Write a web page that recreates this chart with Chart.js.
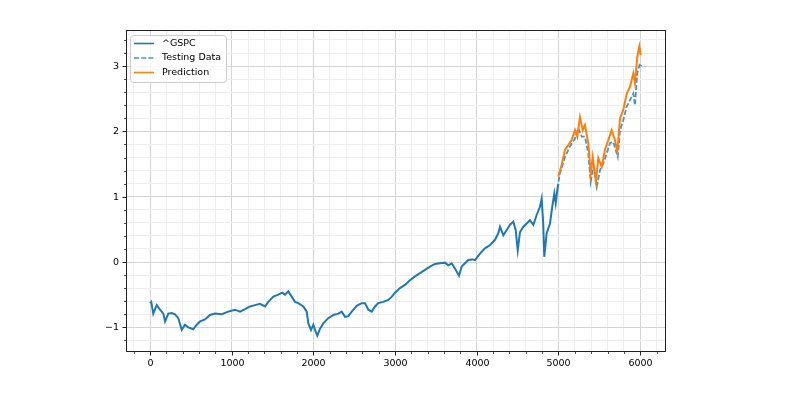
<!DOCTYPE html>
<html>
<head>
<meta charset="utf-8">
<script src="https://cdn.jsdelivr.net/npm/chart.js@4"></script>
<style>
  body { margin: 0; background: #fff; }
  canvas { display: block; }
</style>
</head>
<body>
<canvas id="chart" width="800" height="400"></canvas>
<script>
// values
let gspcX = [0, 15, 40, 82, 122, 163, 184, 224, 266, 306, 346, 388, 428, 469, 530, 572, 612, 673, 734, 796, 878, 958,
    1040, 1102, 1163, 1224, 1285, 1346, 1408, 1448, 1509, 1570, 1619, 1652, 1693, 1734, 1775, 1815, 1876, 1918, 1938, 1971,
    1999, 2020, 2048, 2081, 2121, 2182, 2244, 2305, 2346, 2387, 2427, 2469, 2530, 2591, 2632, 2672, 2714, 2754, 2794, 2856,
    2917, 2960, 2999, 3060, 3121, 3182, 3244, 3305, 3366, 3427, 3488, 3550, 3611, 3651, 3692, 3733, 3782, 3815, 3855, 3896,
    3945, 3978, 4039, 4100, 4162, 4223, 4263, 4284, 4325, 4366, 4406, 4447, 4476, 4501, 4529, 4570, 4611, 4651, 4692, 4733,
    4774, 4794, 4813, 4826, 4855, 4896, 4924, 4949, 4966, 4990, 5000];
let gspcY = [-0.63, -0.61, -0.79, -0.66, -0.73, -0.79, -0.91, -0.79, -0.78, -0.80, -0.86, -1.04, -0.96, -1.00, -1.03, -0.96, -0.91, -0.88, -0.81, -0.79, -0.80, -0.76,
    -0.73, -0.76, -0.72, -0.68, -0.66, -0.64, -0.68, -0.61, -0.53, -0.50, -0.47, -0.50, -0.45, -0.53, -0.61, -0.63, -0.68, -0.76, -0.94, -1.04,
    -0.96, -1.04, -1.13, -1.02, -0.94, -0.86, -0.81, -0.79, -0.76, -0.84, -0.83, -0.76, -0.67, -0.63, -0.63, -0.73, -0.76, -0.68, -0.63, -0.61,
    -0.58, -0.53, -0.47, -0.40, -0.35, -0.28, -0.22, -0.17, -0.12, -0.07, -0.03, -0.02, -0.01, -0.05, -0.02, -0.10, -0.21, -0.07, -0.02, 0.03,
    0.04, 0.03, 0.13, 0.21, 0.26, 0.34, 0.44, 0.54, 0.41, 0.49, 0.57, 0.62, 0.49, 0.18, 0.46, 0.54, 0.59, 0.64, 0.57, 0.72,
    0.85, 0.97, 0.59, 0.08, 0.44, 0.59, 0.85, 1.05, 0.90, 1.15, 1.20];

let testX = [5000, 5018, 5080, 5141, 5202, 5242, 5284, 5324, 5365, 5394, 5426, 5468, 5508, 5548, 5590, 5630, 5671, 5725,
    5753, 5793, 5835, 5875, 5916, 5936, 5964, 5998, 6015];
let testY = [1.23, 1.36, 1.61, 1.77, 1.89, 2.05, 1.92, 1.92, 1.66, 1.23, 1.46, 1.15, 1.41, 1.51, 1.66, 1.82, 1.84, 1.61,
    2.02, 2.17, 2.38, 2.48, 2.58, 2.40, 2.89, 3.04, 3.00];

let predX = [4998, 5039, 5080, 5120, 5161, 5202, 5230, 5263, 5296, 5324, 5365, 5394, 5419, 5459, 5487, 5529, 5569, 5610,
    5651, 5691, 5720, 5753, 5793, 5835, 5875, 5916, 5936, 5964, 5989, 6006];
let predY = [1.31, 1.49, 1.72, 1.79, 1.87, 2.02, 1.92, 2.22, 2.02, 2.10, 1.82, 1.36, 1.61, 1.23, 1.59, 1.46, 1.72, 1.87,
    2.02, 1.87, 1.69, 2.20, 2.33, 2.58, 2.68, 2.89, 2.74, 3.14, 3.30, 3.17];

let legendLabels = ["^GSPC", "Testing Data", "Prediction"];

let blue = "#1f77b4";
let blueLight = "rgba(31,119,180,0.8)";
let orange = "#ff7f0e";
let font = "DejaVu Sans";

function toPoints(xs, ys) {
    return xs.map(function (x, i) { return { x: x, y: ys[i] }; });
}

function isMajor(v, step) {
    let r = v / step;
    return Math.abs(r - Math.round(r)) < 1e-6;
}

function tickText(v) {
    let n = Math.round(v);
    return n < 0 ? "\u2212" + Math.abs(n) : String(n);
}

// major + minor ticks at a fixed step (chart.js would otherwise stretch the step)
function stepTicks(step) {
    return function (scale) {
        let ticks = [];
        let first = Math.ceil(scale.min / step);
        let last = Math.floor(scale.max / step);
        for (let k = first; k <= last; k++) {
            ticks.push({ value: Math.round(k * step * 1000) / 1000 });
        }
        scale.ticks = ticks;
    };
}

// ticks, labels, frame and legend drawn like matplotlib
let axesDecor = {
    id: "axesDecor",
    afterDraw: function (chart) {
        let ctx = chart.ctx;
        let a = chart.chartArea;
        let xs = chart.scales.x;
        let ys = chart.scales.y;
        ctx.save();
        ctx.strokeStyle = "#222";
        ctx.fillStyle = "#000";
        ctx.font = "9.5px '" + font + "'";

        ctx.textAlign = "center";
        ctx.textBaseline = "top";
        xs.ticks.forEach(function (t) {
            let px = Math.round(xs.getPixelForValue(t.value)) + 0.5;
            let major = isMajor(t.value, 1000);
            ctx.lineWidth = major ? 1 : 0.8;
            ctx.beginPath();
            ctx.moveTo(px, a.bottom);
            ctx.lineTo(px, a.bottom + (major ? 3.5 : 2));
            ctx.stroke();
            if (major) ctx.fillText(tickText(t.value), px, a.bottom + 7);
        });

        ctx.textAlign = "right";
        ctx.textBaseline = "middle";
        ys.ticks.forEach(function (t) {
            let py = Math.round(ys.getPixelForValue(t.value)) + 0.5;
            let major = isMajor(t.value, 1);
            ctx.lineWidth = major ? 1 : 0.8;
            ctx.beginPath();
            ctx.moveTo(a.left, py);
            ctx.lineTo(a.left - (major ? 3.5 : 2), py);
            ctx.stroke();
            if (major) ctx.fillText(tickText(t.value), a.left - 7, py);
        });

        ctx.lineWidth = 1;
        ctx.strokeRect(a.left + 0.5, a.top + 0.5, a.right - a.left - 1, a.bottom - a.top - 1);

        // legend box
        let bx = 130.5, by = 35.5, bw = 96, bh = 47, r = 3;
        ctx.beginPath();
        ctx.moveTo(bx + r, by);
        ctx.arcTo(bx + bw, by, bx + bw, by + bh, r);
        ctx.arcTo(bx + bw, by + bh, bx, by + bh, r);
        ctx.arcTo(bx, by + bh, bx, by, r);
        ctx.arcTo(bx, by, bx + bw, by, r);
        ctx.closePath();
        ctx.fillStyle = "rgba(255,255,255,0.8)";
        ctx.fill();
        ctx.strokeStyle = "#cccccc";
        ctx.stroke();

        let rows = [43.5, 58, 72.5];
        let colors = [blue, blueLight, orange];
        let dashes = [[], [5, 2.2], []];
        ctx.textBaseline = "middle";
        ctx.textAlign = "left";
        for (let i = 0; i < rows.length; i++) {
            ctx.strokeStyle = colors[i];
            ctx.lineWidth = 1.6;
            ctx.setLineDash(dashes[i]);
            ctx.beginPath();
            ctx.moveTo(134, rows[i]);
            ctx.lineTo(154, rows[i]);
            ctx.stroke();
            ctx.setLineDash([]);
            ctx.fillStyle = "#000";
            ctx.fillText(legendLabels[i], 162, rows[i]);
        }
        ctx.restore();
    }
};

new Chart(document.getElementById("chart"), {
    type: "line",
    data: {
        datasets: [{
            label: legendLabels[0],
            data: toPoints(gspcX, gspcY),
            borderColor: blue,
            borderWidth: 2,
            pointRadius: 0,
            order: 3
        }, {
            label: legendLabels[1],
            data: toPoints(testX, testY),
            borderColor: blueLight,
            borderWidth: 1.8,
            borderDash: [5, 2.2],
            pointRadius: 0,
            order: 2
        }, {
            label: legendLabels[2],
            data: toPoints(predX, predY),
            borderColor: orange,
            borderWidth: 2,
            pointRadius: 0,
            order: 1
        }]
    },
    options: {
        responsive: false,
        animation: false,
        events: [],
        layout: { padding: { top: 30, right: 134, left: 0, bottom: 0 } },
        plugins: {
            legend: { display: false },
            tooltip: { enabled: false }
        },
        scales: {
            x: {
                type: "linear",
                min: -294,
                max: 6316,
                afterFit: function (scale) { scale.height = 48; },
                afterBuildTicks: stepTicks(200),
                border: { display: false },
                grid: {
                    drawTicks: false,
                    lineWidth: 1,
                    color: function (c) { return isMajor(c.tick.value, 1000) ? "#d4d4d4" : "#eeeeee"; }
                },
                ticks: { display: false }
            },
            y: {
                type: "linear",
                min: -1.378,
                max: 3.553,
                afterFit: function (scale) { scale.width = 126; },
                afterBuildTicks: stepTicks(0.2),
                border: { display: false },
                grid: {
                    drawTicks: false,
                    lineWidth: 1,
                    color: function (c) { return isMajor(c.tick.value, 1) ? "#d4d4d4" : "#eeeeee"; }
                },
                ticks: { display: false }
            }
        }
    },
    plugins: [axesDecor]
});
</script>
</body>
</html>
